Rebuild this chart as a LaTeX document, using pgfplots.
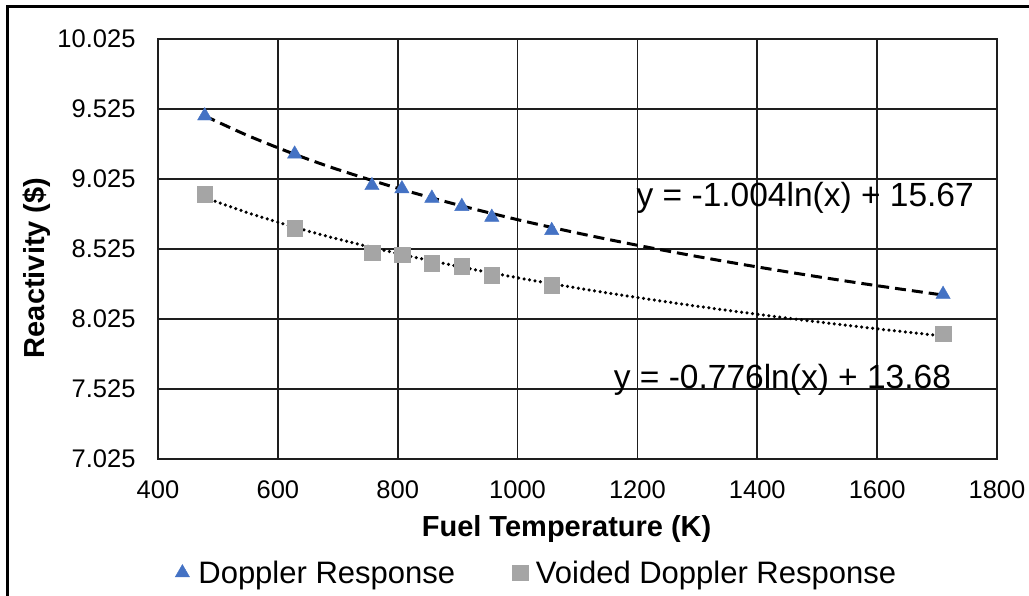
\documentclass[border=0pt]{standalone}
\usepackage{fontspec}
\setmainfont{Liberation Sans}
\usepackage{pgfplots}
\pgfplotsset{compat=1.18}

\definecolor{dopblue}{RGB}{68,114,196}
\definecolor{voidgray}{RGB}{165,165,165}
\definecolor{gridc}{RGB}{30,30,30}

\begin{document}
\begin{tikzpicture}[x=1pt,y=1pt]
\useasboundingbox (0,0) rectangle (1029,596);
% outer chart border (top and left edges)
\draw[line width=3pt, black] (7,0) -- (7,589) -- (1029,589);
\begin{axis}[
  at={(158pt,137pt)}, anchor=south west,
  scale only axis, width=839pt, height=420pt,
  xmin=400, xmax=1800, ymin=7.025, ymax=10.025,
  xtick={400,600,800,1000,1200,1400,1600,1800},
  ytick={7.025,7.525,8.025,8.525,9.025,9.525,10.025},
  major tick length=0pt,
  grid=major,
  grid style={gridc, line width=1.6pt},
  axis line style={gridc, line width=1.6pt},
  /pgf/number format/assume math mode=true,
  x tick label style={/pgf/number format/1000 sep={}, font=\fontsize{25.5}{30}\selectfont, yshift=-18pt},
  y tick label style={/pgf/number format/.cd, fixed, fixed zerofill, precision=3, /tikz/.cd, font=\fontsize{25.5}{30}\selectfont, xshift=-19pt},
  xlabel={\textbf{Fuel Temperature (K)}},
  ylabel={\textbf{Reactivity (\$)}},
  xlabel style={at={(axis description cs:0.487,-0.167)}, anchor=center, font=\fontsize{29}{34}\selectfont},
  ylabel style={at={(axis description cs:-0.144,0.455)}, anchor=center, font=\fontsize{29}{34}\selectfont},
  legend columns=2,
  legend style={at={(axis description cs:0.0167,-0.271)}, anchor=west, draw=none, fill=none,
    font=\fontsize{31}{36}\selectfont,
    /tikz/every even column/.append style={column sep=55pt}},
  legend cell align=left,
  legend image code/.code={\draw[#1] plot coordinates {(0pt,0pt)}; \path[draw=none, fill=none] (0pt,0pt) rectangle (14pt,0.1pt);},
]
% measured responses
\addplot[only marks, mark=triangle*, mark size=8.3pt, mark options={fill=dopblue, draw=dopblue}]
  coordinates {
  (478,9.476) (628,9.203) (757,8.978) (807,8.955) (857,8.888)
  (907,8.829) (957,8.752) (1057,8.657) (1710,8.201)
  };
\addlegendentry{Doppler Response}
\addplot[only marks, mark=square*, mark size=7.8pt, mark options={fill=voidgray, draw=voidgray}]
  coordinates {
  (478,8.918) (628,8.673) (757,8.498) (807,8.484) (857,8.424)
  (907,8.400) (957,8.336) (1057,8.265) (1710,7.921)
  };
\addlegendentry{Voided Doppler Response}
% logarithmic trendlines
\addplot[forget plot, smooth, black, line width=3pt, dash pattern=on 11pt off 6pt]
  coordinates {
  (478,9.4757) (550,9.3348) (630,9.1985) (700,9.0927) (800,8.9587)
  (900,8.8404) (1000,8.7346) (1100,8.6389) (1200,8.5516) (1300,8.4712)
  (1400,8.3968) (1500,8.3275) (1600,8.2627) (1710,8.1960)
  };
\addplot[forget plot, smooth, black, line width=3.5pt, line cap=round, dash pattern=on 0pt off 5.5pt]
  coordinates {
  (478,8.8924) (550,8.7835) (630,8.6781) (700,8.5964) (800,8.4927)
  (900,8.4013) (1000,8.3196) (1100,8.2456) (1200,8.1781) (1300,8.1160)
  (1400,8.0585) (1500,8.0049) (1600,7.9549) (1710,7.9033)
  };
\node[font=\fontsize{33.5}{40}\selectfont, inner sep=0pt] at (axis cs:1480,8.892) {y = -1.004ln(x) + 15.67};
\node[font=\fontsize{33.5}{40}\selectfont, inner sep=0pt] at (axis cs:1442,7.588) {y = -0.776ln(x) + 13.68};
\end{axis}
\end{tikzpicture}
\end{document}
